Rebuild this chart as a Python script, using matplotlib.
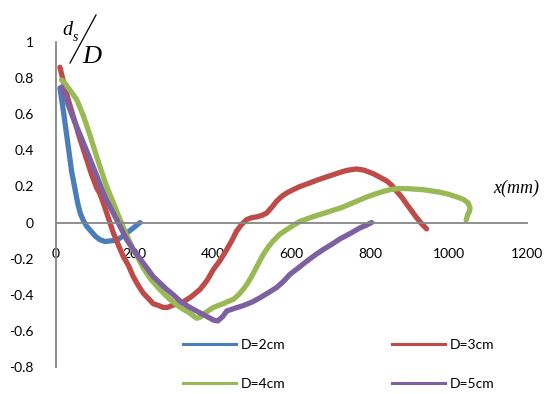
import matplotlib
matplotlib.use("Agg")
import matplotlib.pyplot as plt
from matplotlib.lines import Line2D

# series (x in mm, y = ds/D)
x_2cm = [10, 20, 30, 40, 48, 55, 62, 70, 78, 90, 100, 112, 125, 146, 160, 171, 185, 197, 214]
y_2cm = [0.745, 0.60, 0.44, 0.28, 0.19, 0.11, 0.05, 0.01, -0.02, -0.05, -0.075, -0.095, -0.105,
         -0.10, -0.09, -0.075, -0.05, -0.03, 0.0]

x_3cm = [10, 20, 30, 45, 60, 75, 90, 104, 112, 125, 146, 160, 171, 185, 197, 210, 222, 235, 248,
         262, 273, 284, 295, 310, 324, 345, 367, 385, 401, 418, 435, 448, 460, 473, 486, 500, 511,
         525, 537, 550, 562, 575, 588, 605, 622, 645, 664, 685, 706, 724, 741, 766, 785, 809, 826,
         843, 856, 868, 881, 894, 906, 919, 931, 944]
y_3cm = [0.86, 0.77, 0.69, 0.58, 0.47, 0.37, 0.27, 0.19, 0.16, 0.08, -0.057, -0.13, -0.186, -0.24,
         -0.30, -0.35, -0.39, -0.42, -0.45, -0.46, -0.47, -0.47, -0.46, -0.45, -0.44, -0.41, -0.37,
         -0.32, -0.26, -0.21, -0.15, -0.10, -0.048, -0.01, 0.017, 0.028, 0.031, 0.04, 0.053, 0.085,
         0.118, 0.145, 0.164, 0.183, 0.20, 0.218, 0.234, 0.25, 0.265, 0.278, 0.289, 0.297, 0.29,
         0.27, 0.25, 0.23, 0.205, 0.173, 0.14, 0.10, 0.065, 0.026, -0.005, -0.035]

x_4cm = [14, 25, 40, 53, 70, 87, 100, 115, 129, 146, 163, 180, 197, 210, 222, 240, 256, 273, 290,
         307, 324, 340, 358, 367, 380, 401, 425, 452, 465, 477, 490, 503, 515, 528, 541, 554, 570,
         588, 605, 622, 645, 664, 685, 706, 724, 741, 766, 790, 809, 830, 851, 872, 894, 915, 936,
         957, 978, 1000, 1021, 1038, 1050, 1055, 1053, 1049, 1045]
y_4cm = [0.79, 0.765, 0.72, 0.68, 0.59, 0.48, 0.39, 0.29, 0.20, 0.11, 0.017, -0.07, -0.15, -0.20,
         -0.25, -0.31, -0.35, -0.39, -0.425, -0.455, -0.48, -0.50, -0.53, -0.525, -0.50, -0.47,
         -0.45, -0.425, -0.40, -0.37, -0.33, -0.28, -0.23, -0.177, -0.135, -0.10, -0.065, -0.039,
         -0.015, 0.007, 0.025, 0.039, 0.053, 0.068, 0.08, 0.095, 0.118, 0.14, 0.155, 0.17, 0.182,
         0.188, 0.188, 0.185, 0.182, 0.175, 0.168, 0.157, 0.142, 0.128, 0.109, 0.081, 0.06, 0.044,
         0.013]

x_5cm = [14, 25, 40, 53, 70, 87, 100, 116, 130, 146, 163, 180, 197, 214, 231, 248, 265, 282, 299,
         316, 337, 358, 380, 401, 412, 425, 435, 455, 477, 500, 520, 540, 562, 580, 596, 618, 639,
         660, 681, 703, 724, 750, 774, 790, 804]
y_5cm = [0.75, 0.69, 0.60, 0.53, 0.44, 0.35, 0.28, 0.19, 0.12, 0.053, -0.02, -0.094, -0.15, -0.20,
         -0.25, -0.30, -0.335, -0.37, -0.40, -0.435, -0.465, -0.49, -0.515, -0.54, -0.545, -0.52,
         -0.49, -0.475, -0.46, -0.44, -0.416, -0.39, -0.36, -0.325, -0.287, -0.25, -0.214, -0.18,
         -0.149, -0.12, -0.09, -0.06, -0.03, -0.015, 0.0]

labels = ["D=2cm", "D=3cm", "D=4cm", "D=5cm"]
colors = ["#4A7EBB", "#BE4B48", "#98B954", "#7D60A0"]
x_ticks = [0, 200, 400, 600, 800, 1000, 1200]
y_ticks = [-0.8, -0.6, -0.4, -0.2, 0, 0.2, 0.4, 0.6, 0.8, 1]

W, H = 544, 394
fig = plt.figure(figsize=(W / 100, H / 100), dpi=100)
ax = fig.add_axes([56 / W, 1 - 367 / H, (527 - 56) / W, (367 - 42) / H])

series = [(x_2cm, y_2cm), (x_3cm, y_3cm), (x_4cm, y_4cm), (x_5cm, y_5cm)]
for (xs, ys), c in zip(series, colors):
    ax.plot(xs, ys, color=c, lw=3.8, solid_capstyle="round", solid_joinstyle="round")

ax.set_xlim(0, 1200)
ax.set_ylim(-0.8, 1)
ax.set_xticks(x_ticks)
ax.set_yticks(y_ticks)
ax.set_xticklabels([str(v) for v in x_ticks])
ax.set_yticklabels(["%g" % v for v in y_ticks])

for s in ["top", "right"]:
    ax.spines[s].set_visible(False)
ax.spines["left"].set_position(("data", 0))
ax.spines["bottom"].set_position(("data", 0))
for s in ["left", "bottom"]:
    ax.spines[s].set_color("#868686")
    ax.spines[s].set_linewidth(1.3)

ax.tick_params(axis="y", length=0, pad=16, labelsize=10)
ax.tick_params(axis="x", length=0, pad=18, labelsize=10)
for t in ax.get_xticklabels() + ax.get_yticklabels():
    t.set_fontfamily("Lato")

# legend, 2 x 2 below the curves, filled row by row
order = [0, 2, 1, 3]
handles = [Line2D([], [], color=colors[i], lw=2.2) for i in order]
fig.legend(handles, [labels[i] for i in order], ncol=2, loc="upper left",
           bbox_to_anchor=(183 / W, 1 - 339 / H), frameon=False,
           handlelength=3.8, handletextpad=0.35, columnspacing=7.7,
           labelspacing=1.95, borderpad=0, borderaxespad=0,
           prop={"family": "Lato", "size": 10})

# axis titles in italic serif
serif = "Liberation Serif"
fig.text(62 / W, 1 - 35 / H, "d", family=serif, style="italic", size=14.5, va="baseline")
fig.text(73 / W, 1 - 41 / H, "s", family=serif, style="italic", size=10, va="baseline")
fig.add_artist(Line2D([70 / W, 96 / W], [1 - 63 / H, 1 - 15 / H], color="black", lw=0.9))
fig.text(82 / W, 1 - 63 / H, "D", family=serif, style="italic", size=19, va="baseline")
fig.text(493 / W, 1 - 188 / H, "x(mm)", family=serif, style="italic", size=13, va="center")

fig.savefig("out.png", dpi=100)
